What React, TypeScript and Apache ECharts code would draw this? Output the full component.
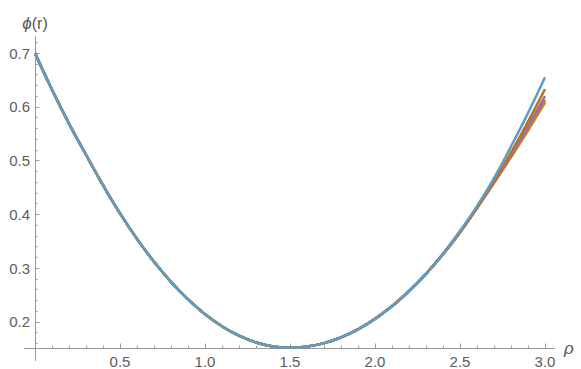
import React, { useEffect, useRef } from "react";
import * as echarts from "echarts";

// ρ sample positions
const rhoValues = [
  0.0, 0.1, 0.2, 0.3, 0.4, 0.5, 0.6, 0.7, 0.8, 0.9, 1.0,
  1.1, 1.2, 1.3, 1.4, 1.5, 1.6, 1.7, 1.8, 1.9, 2.0,
  2.1, 2.2, 2.3, 2.4, 2.5, 2.6, 2.7, 2.8, 2.9, 3.0,
];

// φ values common to all curves for ρ = 0 … 2.3
const sharedPhi = [
  0.700, 0.632, 0.569, 0.511, 0.4545, 0.402, 0.3545, 0.312, 0.2745, 0.242, 0.2145,
  0.192, 0.1745, 0.162, 0.1545, 0.152, 0.1542, 0.1606, 0.1714, 0.1864, 0.2058,
  0.2294, 0.2574, 0.2896,
];

// φ values for ρ = 2.4 … 3.0, one list per curve
const tailPhi1 = [0.3262, 0.367, 0.412, 0.459, 0.5065, 0.556, 0.608];
const tailPhi2 = [0.3262, 0.367, 0.412, 0.459, 0.507, 0.557, 0.609];
const tailPhi3 = [0.3262, 0.367, 0.412, 0.4592, 0.5077, 0.5577, 0.610];
const tailPhi4 = [0.3262, 0.367, 0.412, 0.4594, 0.5086, 0.5597, 0.613];
const tailPhi5 = [0.3262, 0.367, 0.4122, 0.4605, 0.511, 0.5646, 0.620];
const tailPhi6 = [0.3262, 0.367, 0.4125, 0.4625, 0.5155, 0.5725, 0.633];
const tailPhi7 = [0.3275, 0.3695, 0.4155, 0.4675, 0.5265, 0.5885, 0.655];

const tails = [tailPhi1, tailPhi2, tailPhi3, tailPhi4, tailPhi5, tailPhi6, tailPhi7];
const seriesColors = ["#5E81B5", "#E19C24", "#8FB032", "#EB6235", "#8778B3", "#C56E1A", "#5D9EC7"];

const xMajorTicks = [0.5, 1.0, 1.5, 2.0, 2.5, 3.0];
const xMinorTicks = [
  0.1, 0.2, 0.3, 0.4, 0.6, 0.7, 0.8, 0.9, 1.1, 1.2, 1.3, 1.4,
  1.6, 1.7, 1.8, 1.9, 2.1, 2.2, 2.3, 2.4, 2.6, 2.7, 2.8, 2.9,
];
const yMajorTicks = [0.2, 0.3, 0.4, 0.5, 0.6, 0.7];
const yMinorTicks = [
  0.16, 0.18, 0.22, 0.24, 0.26, 0.28, 0.32, 0.34, 0.36, 0.38,
  0.42, 0.44, 0.46, 0.48, 0.52, 0.54, 0.56, 0.58, 0.62, 0.64, 0.66, 0.68, 0.72,
];

const X_MIN = 0;
const X_MAX = 3.053;
const Y_MIN = 0.1516;
const Y_MAX = 0.73;

const AXIS_COLOR = "#9a9a9a";
const LABEL_COLOR = "#5c5c5c";
const FONT = "'Liberation Sans', Arial, sans-serif";

export default function App() {
  const ref = useRef<HTMLDivElement>(null);

  useEffect(() => {
    document.body.style.margin = "0";
    if (!ref.current) return;
    const chart = echarts.init(ref.current, undefined, { renderer: "svg" });

    const series = tails.map((tail, k) => ({
      type: "line",
      xAxisIndex: 0,
      yAxisIndex: 0,
      showSymbol: false,
      smooth: true,
      color: seriesColors[k],
      lineStyle: { width: 2.5, color: seriesColors[k] },
      data: rhoValues.map((r, i) => [
        r,
        i < sharedPhi.length ? sharedPhi[i] : tail[i - sharedPhi.length],
      ]),
    }));

    const tickStyle = { color: AXIS_COLOR, width: 1 };

    chart.setOption({
      animation: false,
      grid: {
        left: 35,
        right: 27,
        top: 37,
        bottom: 21,
        containLabel: false,
        outerBoundsMode: "none",
      },
      xAxis: [
        {
          type: "value",
          min: X_MIN,
          max: X_MAX,
          position: "bottom",
          name: "ρ",
          nameLocation: "end",
          nameGap: 10,
          nameTextStyle: {
            fontFamily: FONT,
            fontStyle: "italic",
            fontSize: 17,
            color: "#555",
            verticalAlign: "middle",
          },
          axisLine: { show: true, onZero: false, lineStyle: { color: AXIS_COLOR, width: 1 } },
          axisTick: {
            show: true,
            inside: true,
            length: 4.5,
            customValues: xMajorTicks,
            lineStyle: tickStyle,
          },
          axisLabel: {
            show: true,
            customValues: xMajorTicks,
            formatter: (v: number) => v.toFixed(1),
            color: LABEL_COLOR,
            fontSize: 15,
            fontFamily: FONT,
            margin: 6,
          },
          splitLine: { show: false },
        },
        {
          type: "value",
          min: X_MIN,
          max: X_MAX,
          position: "bottom",
          axisLine: { show: true, onZero: false, lineStyle: { color: AXIS_COLOR, width: 1 } },
          axisTick: {
            show: true,
            inside: true,
            length: 2.5,
            customValues: xMinorTicks,
            lineStyle: tickStyle,
          },
          axisLabel: { show: false },
          splitLine: { show: false },
        },
      ],
      yAxis: [
        {
          type: "value",
          min: Y_MIN,
          max: Y_MAX,
          position: "left",
          name: "{a|ϕ}{b|(r)}",
          nameLocation: "end",
          nameGap: 5,
          nameTextStyle: {
            align: "center",
            rich: {
              a: { fontFamily: FONT, fontSize: 17, fontStyle: "italic", color: "#555" },
              b: { fontFamily: FONT, fontSize: 16, color: "#555" },
            },
          },
          axisLine: { show: true, onZero: false, lineStyle: { color: AXIS_COLOR, width: 1 } },
          axisTick: {
            show: true,
            inside: true,
            length: 4.5,
            customValues: yMajorTicks,
            lineStyle: tickStyle,
          },
          axisLabel: {
            show: true,
            customValues: yMajorTicks,
            formatter: (v: number) => v.toFixed(1),
            color: LABEL_COLOR,
            fontSize: 15,
            fontFamily: FONT,
            margin: 5,
          },
          splitLine: { show: false },
        },
        {
          type: "value",
          min: Y_MIN,
          max: Y_MAX,
          position: "left",
          axisLine: { show: true, onZero: false, lineStyle: { color: AXIS_COLOR, width: 1 } },
          axisTick: {
            show: true,
            inside: true,
            length: 2.5,
            customValues: yMinorTicks,
            lineStyle: tickStyle,
          },
          axisLabel: { show: false },
          splitLine: { show: false },
        },
      ],
      series,
    });

    // the axes run a little past their crossing point, as in the reference
    const p = chart.convertToPixel({ xAxisIndex: 0, yAxisIndex: 0 }, [X_MIN, Y_MIN]) as number[];
    if (p && isFinite(p[0]) && isFinite(p[1])) {
      const x = Math.round(p[0]) + 0.5;
      const y = Math.round(p[1]) + 0.5;
      chart.setOption({
        graphic: [
          {
            type: "line",
            shape: { x1: x, y1: p[1], x2: x, y2: p[1] + 13 },
            style: { stroke: AXIS_COLOR, lineWidth: 1 },
            silent: true,
          },
          {
            type: "line",
            shape: { x1: p[0] - 11, y1: y, x2: p[0], y2: y },
            style: { stroke: AXIS_COLOR, lineWidth: 1 },
            silent: true,
          },
        ],
      });
    }

    return () => chart.dispose();
  }, []);

  return <div ref={ref} style={{ width: 581, height: 369 }} />;
}
